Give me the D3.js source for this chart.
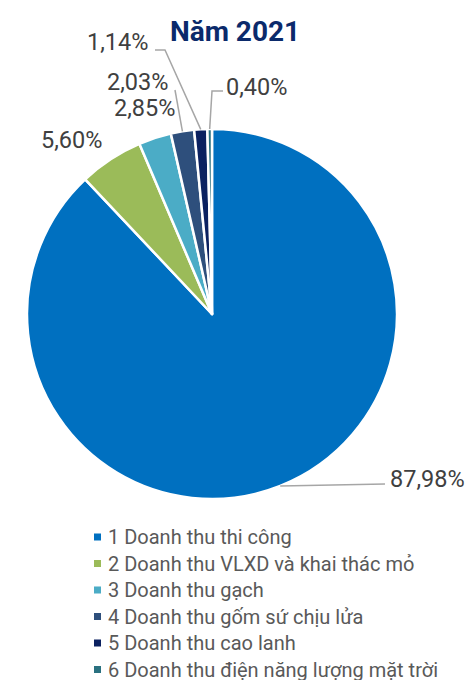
<!DOCTYPE html>
<html>
<head>
<meta charset="utf-8">
<script src="https://cdn.jsdelivr.net/npm/d3@7"></script>
<style>
	body { margin: 0; background: #fff; }
	svg { display: block; font-family: Roboto, "Noto Sans", sans-serif; }
</style>
</head>
<body>
<div id="chart"></div>
<script>
// chart data
const categories = [
	'1 Doanh thu thi công',
	'2 Doanh thu VLXD và khai thác mỏ',
	'3 Doanh thu gạch',
	'4 Doanh thu gốm sứ chịu lửa',
	'5 Doanh thu cao lanh',
	'6 Doanh thu điện năng lượng mặt trời'
];
const values = [87.98, 5.60, 2.85, 2.03, 1.14, 0.40];
const labels = ['87,98%', '5,60%', '2,85%', '2,03%', '1,14%', '0,40%'];
const colours = ['#0070C0', '#9BBB59', '#4BACC6', '#2E4F7C', '#0B2160', '#2A7180'];
const title = 'Năm 2021';

const width = 467,
	height = 680,
	cx = 212,
	cy = 314,
	radius = 185;

// where each data label sits and how its leader line bends (null = no line)
const label_layout = [
	{x: 390, y: 487, anchor: 'start', line: [[385, 484]]},
	{x: 41, y: 148, anchor: 'start', line: null},
	{x: 114, y: 116, anchor: 'start', line: null},
	{x: 107, y: 90, anchor: 'start', line: [[175, 90]]},
	{x: 87, y: 50, anchor: 'start', line: [[165, 50], [155, 50]]},
	{x: 226, y: 95, anchor: 'start', line: [[212, 91], [223, 91]]}
];

let svg = d3.select('#chart').append('svg')
	.attr('width', width)
	.attr('height', height);

svg.append('text')
	.attr('x', 235)
	.attr('y', 41)
	.attr('text-anchor', 'middle')
	.attr('font-size', 28)
	.attr('font-weight', 'bold')
	.attr('fill', '#0B2A6B')
	.text(title);

let pie = d3.pie().sort(null).value(d => d);
let arcs = pie(values);

let arc = d3.arc()
	.innerRadius(0)
	.outerRadius(radius);

let g = svg.append('g')
	.attr('transform', 'translate(' + cx + ',' + cy + ')');

g.selectAll('path')
		.data(arcs)
	.enter().append('path')
		.attr('d', arc)
		.attr('fill', (d, i) => colours[i])
		.attr('stroke', '#fff')
		.attr('stroke-width', 2.5)
		.attr('stroke-linejoin', 'round');

// leader lines start on the rim at the middle of each slice
function rimPoint(d) {
	let a = (d.startAngle + d.endAngle) / 2;
	return [cx + radius * Math.sin(a), cy - radius * Math.cos(a)];
}

let line = d3.line();
arcs.forEach(function(d, i) {
	let lay = label_layout[i];
	if (lay.line != null) {
		svg.append('path')
			.attr('d', line([rimPoint(d)].concat(lay.line)))
			.attr('fill', 'none')
			.attr('stroke', '#A6A6A6')
			.attr('stroke-width', 1.5);
	}
	svg.append('text')
		.attr('x', lay.x)
		.attr('y', lay.y)
		.attr('text-anchor', lay.anchor)
		.attr('font-size', 23.5)
		.attr('fill', '#404040')
		.text(labels[i]);
});

// legend
let legend = svg.append('g')
	.attr('transform', 'translate(94,537)');

let rows = legend.selectAll('g')
		.data(categories)
	.enter().append('g')
		.attr('transform', (d, i) => 'translate(0,' + (i * 26.5) + ')');

rows.append('rect')
	.attr('x', 0)
	.attr('y', -3.5)
	.attr('width', 7)
	.attr('height', 7)
	.attr('fill', (d, i) => colours[i]);

rows.append('text')
	.attr('x', 14)
	.attr('y', 0)
	.attr('dy', '0.35em')
	.attr('font-size', 20)
	.attr('fill', '#595959')
	.text(d => d);
</script>
</body>
</html>
